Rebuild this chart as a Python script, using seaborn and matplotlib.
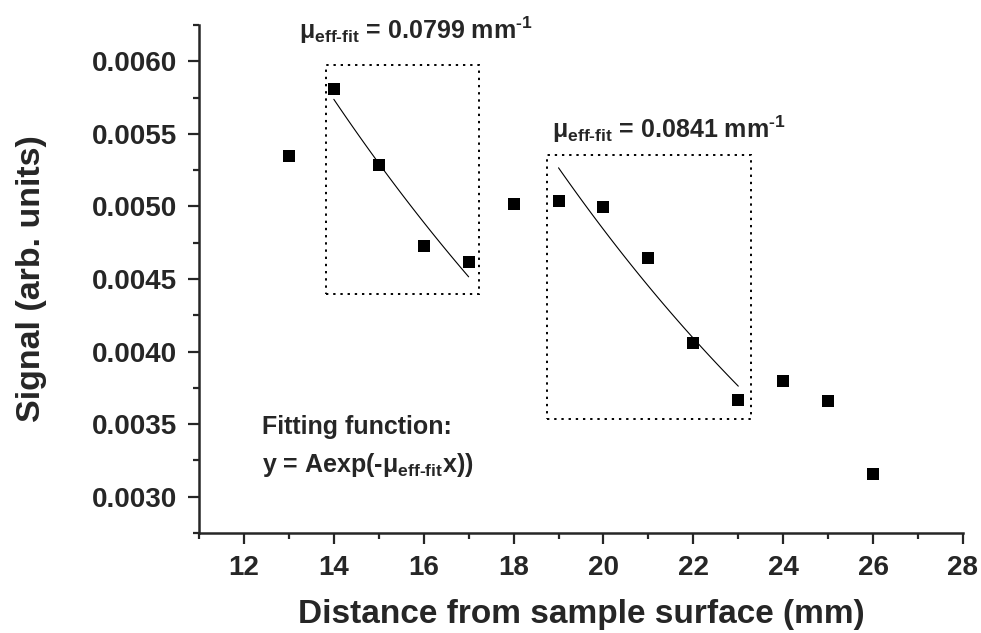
import numpy as np
import pandas as pd
import matplotlib
matplotlib.use("Agg")
import matplotlib.pyplot as plt
import seaborn as sns
from matplotlib.patches import Rectangle
from matplotlib.ticker import MultipleLocator, FormatStrFormatter

# ---- data ----
distance = [13, 14, 15, 16, 17, 18, 19, 20, 21, 22, 23, 24, 25, 26]
signal = [0.005344, 0.005807, 0.005284, 0.004725, 0.004614, 0.005019, 0.005038,
          0.004994, 0.004644, 0.004062, 0.003666, 0.003799, 0.003661, 0.003155]

fit1_range = [14, 17]
fit1_mu = 0.0799
fit1_start = 0.005738
fit2_range = [19, 23]
fit2_mu = 0.0841
fit2_start = 0.005266

box1 = [13.82, 17.23, 0.004396, 0.005972]
box2 = [18.75, 23.29, 0.003532, 0.005351]

# ---- style ----
sns.set_style("ticks")
plt.rcParams['font.family'] = ['Liberation Sans', 'DejaVu Sans']
plt.rcParams['font.weight'] = 'bold'
plt.rcParams['mathtext.fontset'] = 'custom'
plt.rcParams['mathtext.rm'] = 'Liberation Sans:bold'
plt.rcParams['mathtext.it'] = 'Liberation Sans:bold'
plt.rcParams['mathtext.bf'] = 'Liberation Sans:bold'

fig = plt.figure(figsize=(9.81, 6.33), dpi=100)
ax = fig.add_axes([199/981, 1-533/633, (963-199)/981, (533-25)/633])

df = pd.DataFrame({"x": distance, "y": signal})
sns.scatterplot(data=df, x="x", y="y", marker="s", s=80, color="black",
                edgecolor="black", linewidth=0, ax=ax, zorder=3)

def fit_curve(rng, mu, start):
    xs = np.linspace(rng[0], rng[1], 50)
    ys = start * np.exp(-mu * (xs - rng[0]))
    return pd.DataFrame({"x": xs, "y": ys})

for rng, mu, st in [(fit1_range, fit1_mu, fit1_start), (fit2_range, fit2_mu, fit2_start)]:
    sns.lineplot(data=fit_curve(rng, mu, st), x="x", y="y", color="black",
                 linewidth=0.8, ax=ax, zorder=2)

for b in [box1, box2]:
    ax.add_patch(Rectangle((b[0], b[2]), b[1]-b[0], b[3]-b[2], fill=False,
                           edgecolor="black", linestyle=(0, (1.2, 2.5)), linewidth=1.4))

ax.set_xlim(11, 28)
ax.set_ylim(0.00275, 0.00625)
ax.xaxis.set_major_locator(MultipleLocator(2))
ax.xaxis.set_minor_locator(MultipleLocator(1))
ax.yaxis.set_major_locator(MultipleLocator(0.0005))
ax.yaxis.set_minor_locator(MultipleLocator(0.00025))
ax.yaxis.set_major_formatter(FormatStrFormatter('%.4f'))

ax.tick_params(which='major', length=8, width=1.6, labelsize=20)
ax.tick_params(axis='y', which='major', pad=8)
ax.tick_params(axis='x', which='major', pad=8)
ax.tick_params(which='minor', length=4.5, width=1.6)
for lab in ax.get_xticklabels() + ax.get_yticklabels():
    lab.set_fontweight('bold')

sns.despine(ax=ax)
for s in ['left', 'bottom']:
    ax.spines[s].set_linewidth(1.8)

ax.set_xlabel("Distance from sample surface (mm)", fontsize=24, fontweight='bold', labelpad=13)
ax.set_ylabel("Signal (arb. units)", fontsize=24.5, fontweight='bold', labelpad=32)

ax.text(13.23, 0.006152, r"μ$_{\text{eff-fit}}$ = 0.0799 mm$^{\text{-1}}$",
        fontsize=18, fontweight='bold', va='baseline', ha='left')
ax.text(18.86, 0.005473, r"μ$_{\text{eff-fit}}$ = 0.0841 mm$^{\text{-1}}$",
        fontsize=18, fontweight='bold', va='baseline', ha='left')
ax.text(12.4, 0.00343, "Fitting function:", fontsize=18, fontweight='bold',
        va='baseline', ha='left')
ax.text(12.4, 0.003168, r"y = Aexp(-μ$_{\text{eff-fit}}$x))", fontsize=18,
        fontweight='bold', va='baseline', ha='left')

fig.savefig("out.png", dpi=100)
